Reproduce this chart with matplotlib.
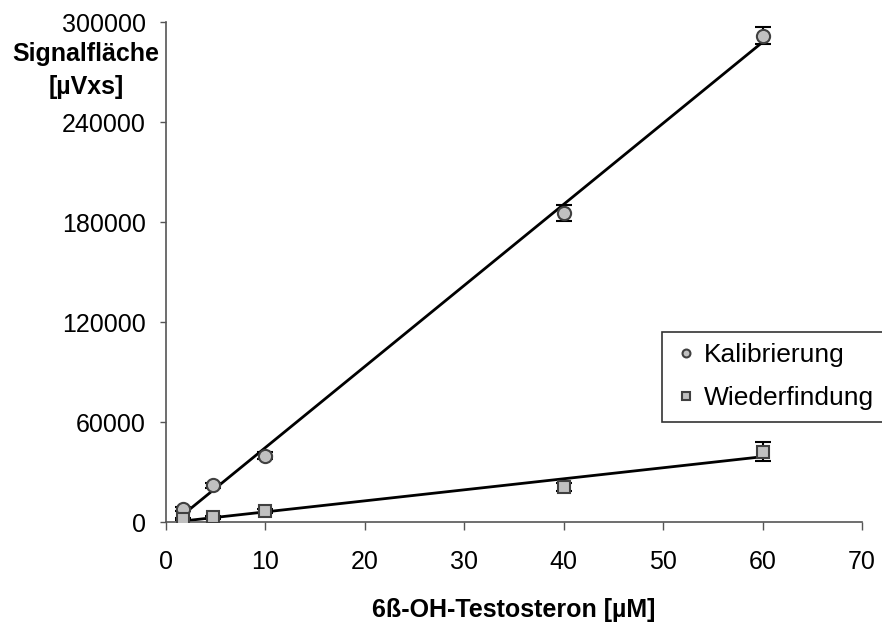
import numpy as np
import matplotlib
matplotlib.use("Agg")
import matplotlib.pyplot as plt

plt.rcParams['font.family'] = ['Liberation Sans', 'DejaVu Sans']

conc = [1.75, 4.75, 10, 40, 60]
kalibrierung = [7600, 22200, 39800, 185500, 291800]
kalibrierung_err = [1200, 1500, 2000, 4700, 5000]
wiederfindung = [1600, 2800, 6600, 21200, 42200]
wiederfindung_err = [600, 800, 1200, 2500, 5800]

xticks = [0, 10, 20, 30, 40, 50, 60, 70]
yticks = [0, 60000, 120000, 180000, 240000, 300000]

fig = plt.figure(figsize=(8.82, 6.28), dpi=100)
ax = fig.add_axes([166/882, 1-522/628, (862-166)/882, 500/628])

edge = '#404040'
fill = '#c0c0c0'

# trend lines (linear fits of the data)
for yv in (kalibrierung, wiederfindung):
    p = np.polyfit(conc, yv, 1)
    xs = np.array([conc[0], conc[-1]])
    ax.plot(xs, np.polyval(p, xs), color='black', lw=2, zorder=2)

ax.errorbar(conc, kalibrierung, yerr=kalibrierung_err, fmt='none', ecolor='black',
            elinewidth=1.5, capsize=6, capthick=1.5, zorder=3)
ax.errorbar(conc, wiederfindung, yerr=wiederfindung_err, fmt='none', ecolor='black',
            elinewidth=1.5, capsize=6, capthick=1.5, zorder=3)
ax.plot(conc, kalibrierung, 'o', ms=9.5, mfc=fill, mec=edge, mew=1.5, ls='none',
        label='Kalibrierung', zorder=4)
ax.plot(conc, wiederfindung, 's', ms=9, mfc=fill, mec=edge, mew=1.5, ls='none',
        label='Wiederfindung', zorder=4)

ax.set_xlim(0, 70)
ax.set_ylim(0, 300000)
ax.set_xticks(xticks)
ax.set_yticks(yticks)
ax.tick_params(labelsize=18, direction='out', width=1, colors='black')
ax.tick_params(axis='x', length=6, pad=14)
ax.tick_params(axis='y', length=4.5, pad=10)
for s in ('top', 'right'):
    ax.spines[s].set_visible(False)
for s in ('left', 'bottom'):
    ax.spines[s].set_color('#555555')
    ax.spines[s].set_linewidth(1.2)
ax.tick_params(color='#555555')

fig.text(86/882, 1-54/628, 'Signalfläche', fontsize=18, fontweight='bold',
         ha='center', va='center')
fig.text(86/882, 1-87/628, '[µVxs]', fontsize=18, fontweight='bold',
         ha='center', va='center')
fig.text(514/882, 1-610/628, '6ß-OH-Testosteron [µM]', fontsize=18,
         fontweight='bold', ha='center', va='center')

leg = fig.legend(loc='upper left', bbox_to_anchor=(662/882, 1-331.5/628),
                 fontsize=19, frameon=True, fancybox=False, edgecolor='black',
                 markerscale=0.6, handlelength=0.95, handletextpad=0.2,
                 borderpad=0.45, labelspacing=0.7, borderaxespad=0)
leg.get_frame().set_linewidth(1.2)

fig.savefig('out.png', dpi=100)
